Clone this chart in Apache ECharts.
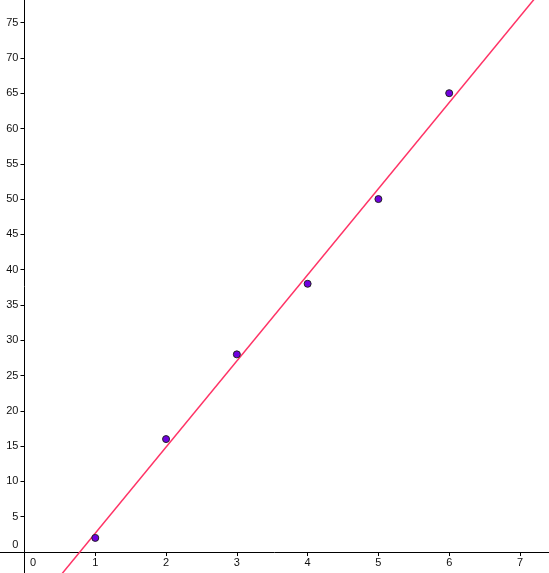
<!DOCTYPE html>
<html><head><meta charset="utf-8">
<script src="https://cdn.jsdelivr.net/npm/echarts@6/dist/echarts.min.js"></script>
<style>html,body{margin:0;padding:0;background:#fff}#c{width:549px;height:573px}</style>
</head><body><div id="c"></div>
<script>
// Data
const xValues = [1, 2, 3, 4, 5, 6];
const yValues = [2, 16, 28, 38, 50, 65];
const xTicks = [0, 1, 2, 3, 4, 5, 6, 7];
const yTicks = [0, 5, 10, 15, 20, 25, 30, 35, 40, 45, 50, 55, 60, 65, 70, 75];
const xRange = [-0.346, 7.41];
const yRange = [-2.97, 78.2];

// least squares fit line from the data
const n = xValues.length;
const mx = xValues.reduce((a, b) => a + b, 0) / n;
const my = yValues.reduce((a, b) => a + b, 0) / n;
let sxy = 0, sxx = 0;
for (let i = 0; i < n; i++) { sxy += (xValues[i] - mx) * (yValues[i] - my); sxx += (xValues[i] - mx) ** 2; }
const slope = sxy / sxx, intercept = my - slope * mx;
const fitLine = xRange.map(x => [x, slope * x + intercept]);

const W = 549, H = 573;
// pixel offsets of the zero lines from the grid edges
const xZeroPx = -xRange[0] / (xRange[1] - xRange[0]) * W;
const yZeroPx = -yRange[0] / (yRange[1] - yRange[0]) * H;

const chart = echarts.init(document.getElementById('c'));
const font = 'Liberation Sans, Arial, sans-serif';
chart.setOption({
  animation: false,
  grid: { left: 0, right: 0, top: 0, bottom: 0, containLabel: false },
  xAxis: {
    type: 'value', min: xRange[0], max: xRange[1], position: 'bottom', offset: -yZeroPx,
    splitLine: { show: false },
    axisLine: { onZero: false, lineStyle: { color: '#000', width: 1 } },
    axisTick: { show: true, length: 4, customValues: xTicks.slice(1), lineStyle: { color: '#000' } },
    axisLabel: {
      customValues: xTicks, margin: 5, color: '#111', fontSize: 11, fontFamily: font,
      formatter: v => v === 0 ? '{z|0}' : String(v),
      rich: { z: { padding: [0, 0, 0, 17], fontSize: 11, fontFamily: font, color: '#111' } }
    }
  },
  yAxis: {
    type: 'value', min: yRange[0], max: yRange[1], position: 'left', offset: -xZeroPx,
    splitLine: { show: false },
    axisLine: { onZero: false, lineStyle: { color: '#000', width: 1 } },
    axisTick: { show: true, length: 4, customValues: yTicks.slice(1), lineStyle: { color: '#000' } },
    axisLabel: {
      customValues: yTicks, margin: 6, color: '#111', fontSize: 11, fontFamily: font,
      formatter: v => v === 0 ? '{z|0}' : String(v),
      rich: { z: { padding: [0, 0, 14, 0], fontSize: 11, fontFamily: font, color: '#111' } }
    }
  },
  series: [
    {
      type: 'line', data: fitLine, showSymbol: false, symbol: 'none',
      lineStyle: { color: '#ff3366', width: 1.5 }, z: 2, silent: true
    },
    {
      type: 'scatter', data: xValues.map((x, i) => [x, yValues[i]]),
      symbolSize: 7,
      itemStyle: { color: '#7000e0', borderColor: '#222', borderWidth: 1, opacity: 1 },
      z: 3
    }
  ]
});
</script></body></html>
